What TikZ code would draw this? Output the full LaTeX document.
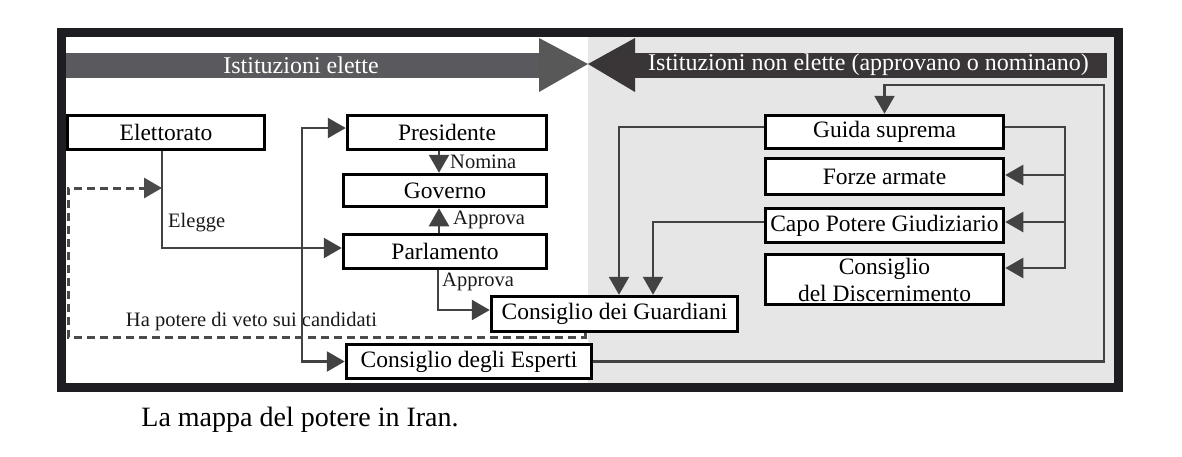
\documentclass[tikz,border=0pt]{standalone}
\usepackage{fontspec}
\setmainfont{Liberation Serif}
\usetikzlibrary{arrows.meta}
\definecolor{framecol}{HTML}{1E1E22}
\definecolor{panel}{HTML}{E6E6E6}
\definecolor{elected}{HTML}{5A5A5E}
\definecolor{electedtip}{HTML}{585858}
\definecolor{appointed}{HTML}{3A3638}
\definecolor{linecol}{HTML}{424242}

\begin{document}
\begin{tikzpicture}[x=1pt,y=-1pt,
  box/.style={draw=black,line width=3.5pt,fill=white,inner sep=0pt,align=center,
    minimum width=238pt,minimum height=34pt,font=\fontsize{23.5}{27}\selectfont},
  lbl/.style={font=\fontsize{20.5}{22}\selectfont,text=black!90,inner sep=0pt},
  banner/.style={font=\fontsize{24}{26}\selectfont,text=white,inner sep=0pt},
  conn/.style={linecol,line width=2.5pt,-{Triangle[length=18pt,width=20pt]}},
  veto/.style={linecol!95,line width=3pt,dash pattern=on 8pt off 5pt,-{Triangle[length=18pt,width=20pt]}}]
  \useasboundingbox (0,0) rectangle (1182,456);

  % Frame and shaded half
  \fill[panel] (588,37) rectangle (1114,383);
  \draw[framecol,line width=9.5pt] (61.5,32.5) rectangle (1118.5,387.5);

  % Banners
  \fill[elected] (66,53) rectangle (540,78);
  \fill[electedtip] (539,38) -- (588,64) -- (539,92) -- cycle;
  \fill[appointed] (635,38) -- (588,64) -- (635,92) -- cycle;
  \fill[appointed] (634,53) rectangle (1107,78);
  \node[banner] (eletteT) at (301,65) {Istituzioni elette};
  \node[banner] (nonEletteT) at (868.5,65) {Istituzioni non elette (approvano o nominano)};

  % Elected institutions
  \node[box,minimum width=197pt] (elettorato) at (166,132.5) {Elettorato};
  \node[box,minimum width=199pt] (presidente) at (447,132.5) {Presidente};
  \node[box,minimum width=203pt,minimum height=32pt] (governo) at (445,190.5) {Governo};
  \node[box,minimum width=203pt] (parlamento) at (445,251.5) {Parlamento};
  \node[box,minimum width=246pt,minimum height=35pt] (guardiani) at (614.5,314) {Consiglio dei Guardiani};
  \node[box,minimum width=245pt] (esperti) at (469,361.5) {Consiglio degli Esperti};

  % Non-elected institutions
  \node[box,minimum height=33pt] (guida) at (884.5,132) {Guida suprema};
  \node[box,minimum height=36pt] (forze) at (884.5,176.5) {Forze armate};
  \node[box] (capo) at (884.5,225.5) {Capo Potere Giudiziario};
  \node[box,minimum height=50pt] (discern) at (884.5,279.5) {Consiglio\\del Discernimento};

  % Labels
  \node[lbl,anchor=west] (eleggeT) at (168,223) {Elegge};
  \node[lbl,anchor=west] (nominaT) at (450,162) {Nomina};
  \node[lbl,anchor=west] (approvaG) at (453,220) {Approva};
  \node[lbl,anchor=west] (approvaC) at (442,282) {Approva};
  \node[lbl] (vetoT) at (251.5,322) {Ha potere di veto sui candidati};

  % Connectors
  \coordinate (split) at (302,248);
  \coordinate (elegge) at (162,188);
  \coordinate (vetoL) at (68,337);
  \coordinate (bus) at (1065,127);
  \coordinate (loop) at (1104,85);
  \draw[conn] ([xshift=-4pt]elettorato.south) |- ([yshift=3.5pt]parlamento.west);
  \draw[conn] (split) |- ([yshift=4.5pt]presidente.west);
  \draw[conn] (split) |- (esperti.west);
  \draw[conn] ([xshift=-8pt]presidente.south) -- ([xshift=-6pt]governo.north);
  \draw[conn] ([xshift=-6pt]parlamento.north) -- ([xshift=-6pt]governo.south);
  \draw[conn] ([xshift=-7pt]parlamento.south) |- ([yshift=4pt]guardiani.west);
  \draw[conn] ([yshift=5pt]guida.west) -| ([xshift=4.5pt]guardiani.north);
  \draw[conn] ([yshift=3.5pt]capo.west) -| ([xshift=38.5pt]guardiani.north);
  \draw[conn] ([yshift=5pt]guida.east) -- (bus) |- ([yshift=11.5pt]discern.east);
  \draw[conn] ([yshift=1.5pt]forze.east -| bus) -- ([yshift=1.5pt]forze.east);
  \draw[conn] ([yshift=3.5pt]capo.east -| bus) -- ([yshift=3.5pt]capo.east);
  \draw[conn] (esperti.east) -| (loop) -| (guida.north);
  \draw[veto] ([xshift=-29.5pt]guardiani.south) |- (vetoL) |- (elegge);

  % Caption
  \node[font=\fontsize{28}{30}\selectfont,inner sep=0pt] (caption) at (300,420) {La mappa del potere in Iran.};
\end{tikzpicture}
\end{document}
